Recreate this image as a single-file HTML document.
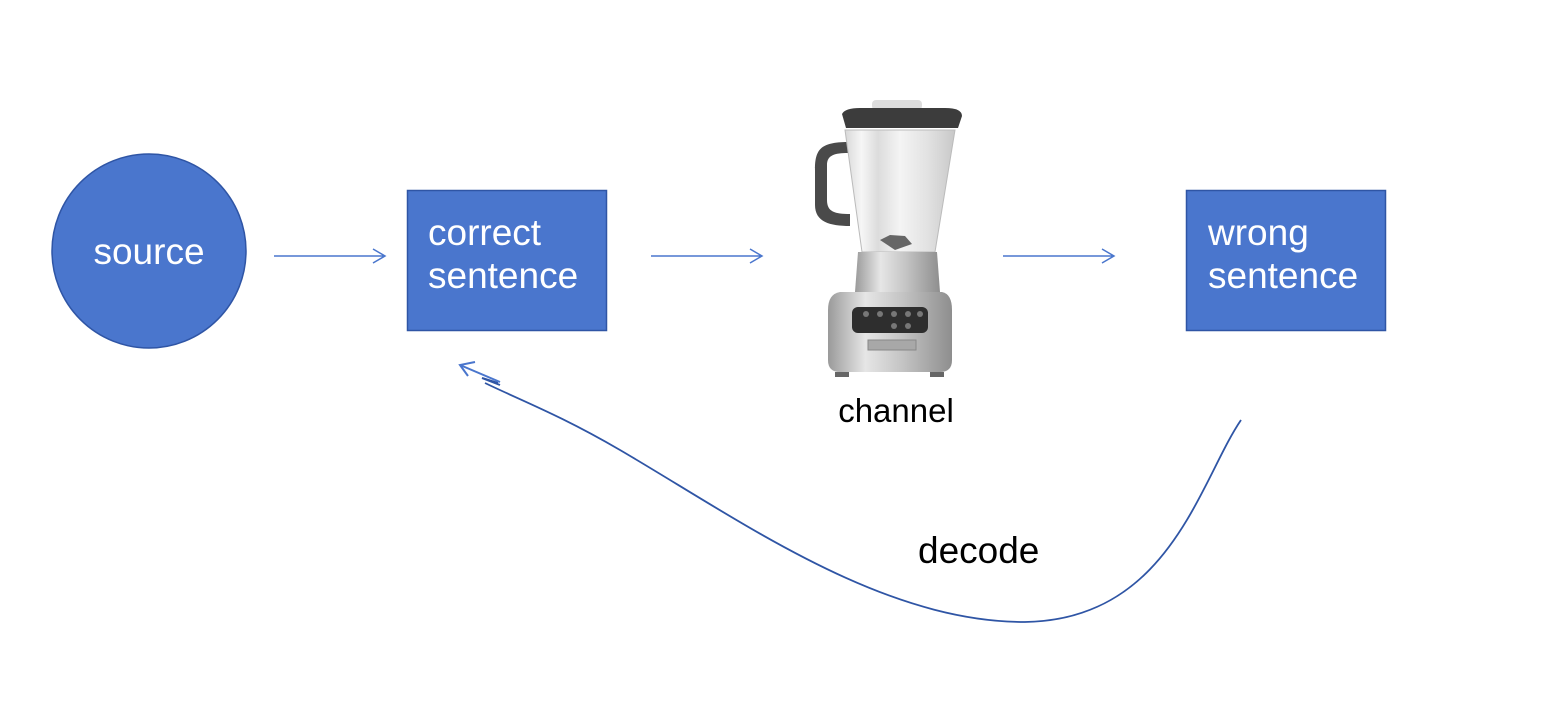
<!DOCTYPE html>
<html><head><meta charset="utf-8"><style>
html,body{margin:0;padding:0;background:#fff;}
svg{display:block;}
text{font-family:"Liberation Sans",sans-serif;}
</style></head><body>
<svg width="1560" height="714" viewBox="0 0 1560 714" xmlns="http://www.w3.org/2000/svg">
<defs>
<linearGradient id="metal" x1="0" x2="1">
<stop offset="0" stop-color="#9a9a9a"/><stop offset="0.3" stop-color="#e6e6e6"/><stop offset="0.6" stop-color="#c4c4c4"/><stop offset="1" stop-color="#8e8e8e"/>
</linearGradient>
<linearGradient id="glass" x1="0" x2="1">
<stop offset="0" stop-color="#d8d8d8"/><stop offset="0.15" stop-color="#f6f6f6"/><stop offset="0.3" stop-color="#dcdcdc"/><stop offset="0.5" stop-color="#f4f4f4"/><stop offset="0.75" stop-color="#e2e2e2"/><stop offset="1" stop-color="#c8c8c8"/>
</linearGradient>
</defs>
<circle cx="149" cy="251" r="97" fill="#4a76cd" stroke="#2f55a5" stroke-width="1.5"/>
<text x="149" y="264" fill="#fff" font-size="37" text-anchor="middle">source</text>
<rect x="407.5" y="190.5" width="199" height="140" fill="#4a76cd" stroke="#2f55a5" stroke-width="1.5"/>
<text x="428" y="245" fill="#fff" font-size="37">correct</text>
<text x="428" y="288" fill="#fff" font-size="37">sentence</text>
<rect x="1186.5" y="190.5" width="199" height="140" fill="#4a76cd" stroke="#2f55a5" stroke-width="1.5"/>
<text x="1208" y="245" fill="#fff" font-size="37">wrong</text>
<text x="1208" y="288" fill="#fff" font-size="37">sentence</text>
<g stroke="#4a76cd" stroke-width="1.5" fill="none">
<path d="M274 256H385M373 249L385 256L373 263"/>
<path d="M651 256H762M750 249L762 256L750 263"/>
<path d="M1003 256H1114M1102 249L1114 256L1102 263"/>
</g>
<g>
<path d="M848 142 C820 142 815 150 815 170 L815 205 C815 222 830 226 850 226 L850 214 C835 214 827 212 827 200 L827 165 C827 155 835 153 848 153Z" fill="#4a4a4a"/>
<path d="M845 130 L955 130 L935 252 L862 252Z" fill="url(#glass)" stroke="#bbb"/>
<path d="M880 240 L890 235 L905 236 L912 244 L895 250Z" fill="#666"/>
<rect x="872" y="100" width="50" height="10" rx="4" fill="#ddd"/>
<path d="M842 114 Q845 108 860 108 L945 108 Q962 108 962 116 L958 128 L846 128Z" fill="#3c3c3c"/>
<path d="M858 252 L937 252 L940 292 L855 292Z" fill="url(#metal)"/>
<path d="M840 292 L942 292 Q952 294 952 310 L952 360 Q952 372 940 372 L840 372 Q828 372 828 360 L828 310 Q828 294 840 292Z" fill="url(#metal)"/>
<rect x="852" y="307" width="76" height="26" rx="6" fill="#2e2e2e"/>
<g fill="#777"><circle cx="866" cy="314" r="3"/><circle cx="880" cy="314" r="3"/><circle cx="894" cy="314" r="3"/><circle cx="908" cy="314" r="3"/><circle cx="920" cy="314" r="3"/><circle cx="894" cy="326" r="3"/><circle cx="908" cy="326" r="3"/></g>
<rect x="868" y="340" width="48" height="10" fill="#a8a8a8" stroke="#888"/>
<rect x="835" y="372" width="14" height="5" fill="#666"/><rect x="930" y="372" width="14" height="5" fill="#666"/>
</g>
<text x="896" y="422" font-size="33" text-anchor="middle" fill="#000">channel</text>
<path d="M1241 420 C1200 480 1170 620 1025 622 C880 622 740 520 620 450 C560 415 520 400 485 383" fill="none" stroke="#2f55a5" stroke-width="1.8"/>
<path d="M500 385 L482 378 L498 383" fill="none" stroke="#2f55a5" stroke-width="2"/>
<g stroke="#4a76cd" stroke-width="2" fill="none">
<path d="M460 365 L500 382"/>
<path d="M475 362 L460 365 L468 376"/>
</g>
<text x="918" y="563" font-size="37" fill="#000">decode</text>
</svg>
</body></html>
